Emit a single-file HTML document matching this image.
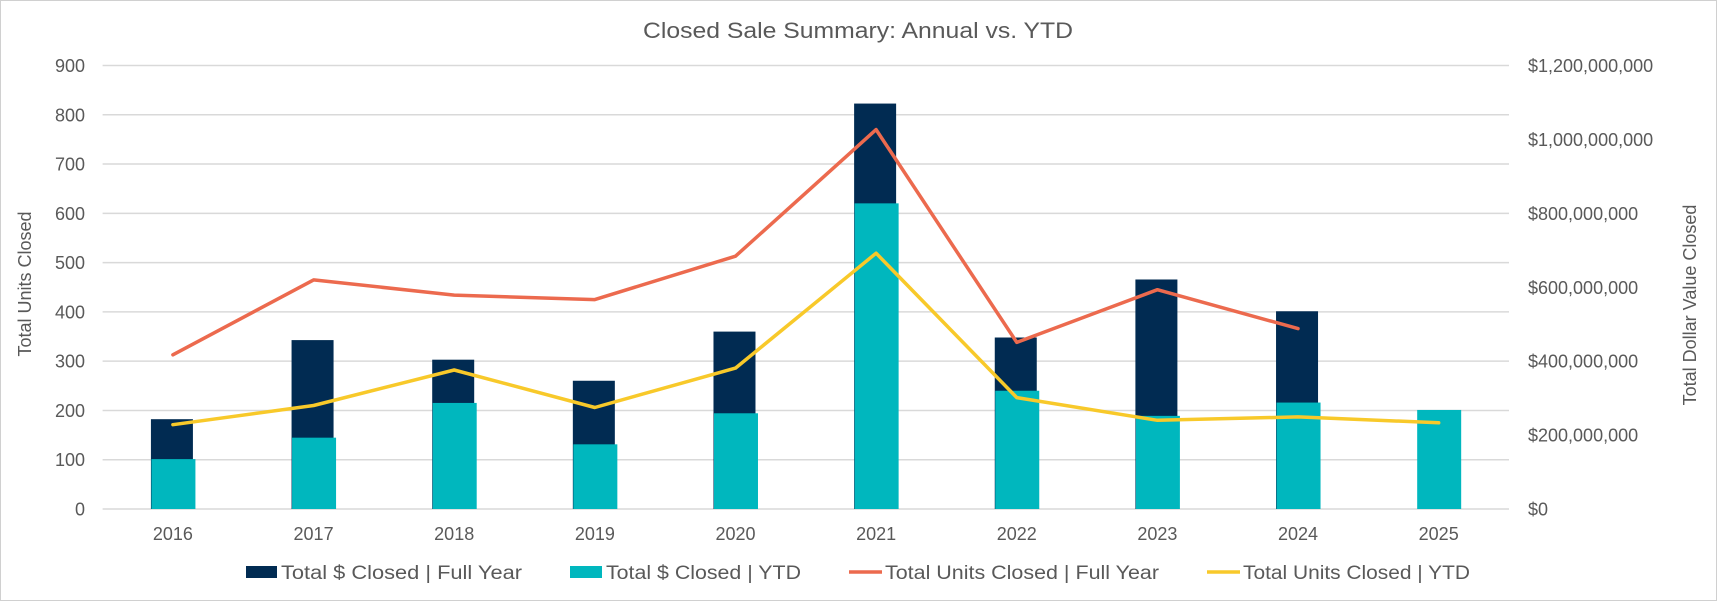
<!DOCTYPE html>
<html><head><meta charset="utf-8"><style>
html,body{margin:0;padding:0;background:#fff;}
svg{display:block;font-family:"Liberation Sans",sans-serif;}
</style></head><body>
<svg id="chart" width="1717" height="601" viewBox="0 0 1717 601">
<rect x="0.5" y="0.5" width="1716" height="600" fill="#fff" stroke="#d0d0d0"/>
<text x="643" y="38" font-size="22" fill="#595959" textLength="430" lengthAdjust="spacingAndGlyphs">Closed Sale Summary: Annual vs. YTD</text>
<g id="grid"></g><g id="bars"></g><g id="lines"></g><g id="axes"></g>
<text transform="translate(31,284) rotate(-90)" text-anchor="middle" font-size="18" fill="#595959">Total Units Closed</text>
<text transform="translate(1696,305) rotate(-90)" text-anchor="middle" font-size="18" fill="#595959">Total Dollar Value Closed</text>
<g font-size="19" fill="#595959">
 <g><rect x="246" y="566" width="31" height="12" fill="#012B52"/><text x="281" y="579" textLength="241" lengthAdjust="spacingAndGlyphs">Total $ Closed | Full Year</text></g>
 <g><rect x="570" y="566" width="32" height="12" fill="#00B7BE"/><text x="606" y="579" textLength="195" lengthAdjust="spacingAndGlyphs">Total $ Closed | YTD</text></g>
 <g><line x1="849" y1="572" x2="882" y2="572" stroke="#EC6A4E" stroke-width="3.5"/><text x="885" y="579" textLength="274" lengthAdjust="spacingAndGlyphs">Total Units Closed | Full Year</text></g>
 <g><line x1="1207" y1="572" x2="1240" y2="572" stroke="#F8C92A" stroke-width="3.5"/><text x="1243" y="579" textLength="227" lengthAdjust="spacingAndGlyphs">Total Units Closed | YTD</text></g>
</g>
</svg>
<script>
const years=["2016","2017","2018","2019","2020","2021","2022","2023","2024","2025"];
const fullYearDollars=[243e6,457e6,404e6,347e6,480e6,1097e6,464e6,621e6,535e6,null];
const ytdDollars=[135e6,193e6,287e6,175e6,259e6,827e6,320e6,252e6,288e6,268e6];
const fullYearUnits=[313,465,434,425,513,770,338,445,366,null];
const ytdUnits=[171,210,282,206,286,519,226,180,187,175];
const leftTicks=[0,100,200,300,400,500,600,700,800,900];
const rightTickLabels=["$0","$200,000,000","$400,000,000","$600,000,000","$800,000,000","$1,000,000,000","$1,200,000,000"];
const rightTicks=[0,200e6,400e6,600e6,800e6,1000e6,1200e6];

const NS="http://www.w3.org/2000/svg";
const L=102.6,R=1509,T=65.5,B=509;
const bw=(R-L)/years.length;
const xC=i=>L+bw*(i+0.5);
const yL=v=>B-(v/900)*(B-T);
const yR=v=>B-(v/1200e6)*(B-T);
function mk(tag,attrs,parent){const e=document.createElementNS(NS,tag);for(const k in attrs)e.setAttribute(k,attrs[k]);parent.appendChild(e);return e;}
const grid=document.getElementById('grid'),bars=document.getElementById('bars'),lines=document.getElementById('lines'),axes=document.getElementById('axes');
leftTicks.forEach(v=>{
 const g=mk('line',{x1:L,x2:R,y1:yL(v),y2:yL(v),stroke:'#d9d9d9','stroke-width':1.5},grid);
 
 
 const t=mk('text',{x:85,y:yL(v)+6.5,'text-anchor':'end','font-size':18,fill:'#595959'},axes);
 t.textContent=v;
 
 
});
rightTicks.forEach((v,i)=>{
 const t=mk('text',{x:1528,y:yR(v)+6.5,'font-size':18,fill:'#595959'},axes);
 t.textContent=rightTickLabels[i];
 
 
});
years.forEach((y,i)=>{
 const t=mk('text',{x:xC(i),y:540,'text-anchor':'middle','font-size':18,fill:'#595959'},axes);
 t.textContent=y;
 
 
 if(fullYearDollars[i]!=null){
  const b=mk('rect',{x:xC(i)-22,y:yR(fullYearDollars[i]),width:42,height:B-yR(fullYearDollars[i]),fill:'#012B52'},bars);
  
  
 }
 const c=mk('rect',{x:xC(i)-21.5,y:yR(ytdDollars[i]),width:44,height:B-yR(ytdDollars[i]),fill:'#00B7BE'},bars);
 
 
});
function line(data,color,name){
 const pts=[];data.forEach((v,i)=>{if(v!=null)pts.push(xC(i).toFixed(1)+','+yL(v).toFixed(1));});
 const p=mk('polyline',{points:pts.join(' '),fill:'none',stroke:color,'stroke-width':3.5,'stroke-linejoin':'round','stroke-linecap':'round'},lines);
 
 
}
line(fullYearUnits,'#EC6A4E','line-full-year-units');
line(ytdUnits,'#F8C92A','line-ytd-units');
</script>
</body></html>
